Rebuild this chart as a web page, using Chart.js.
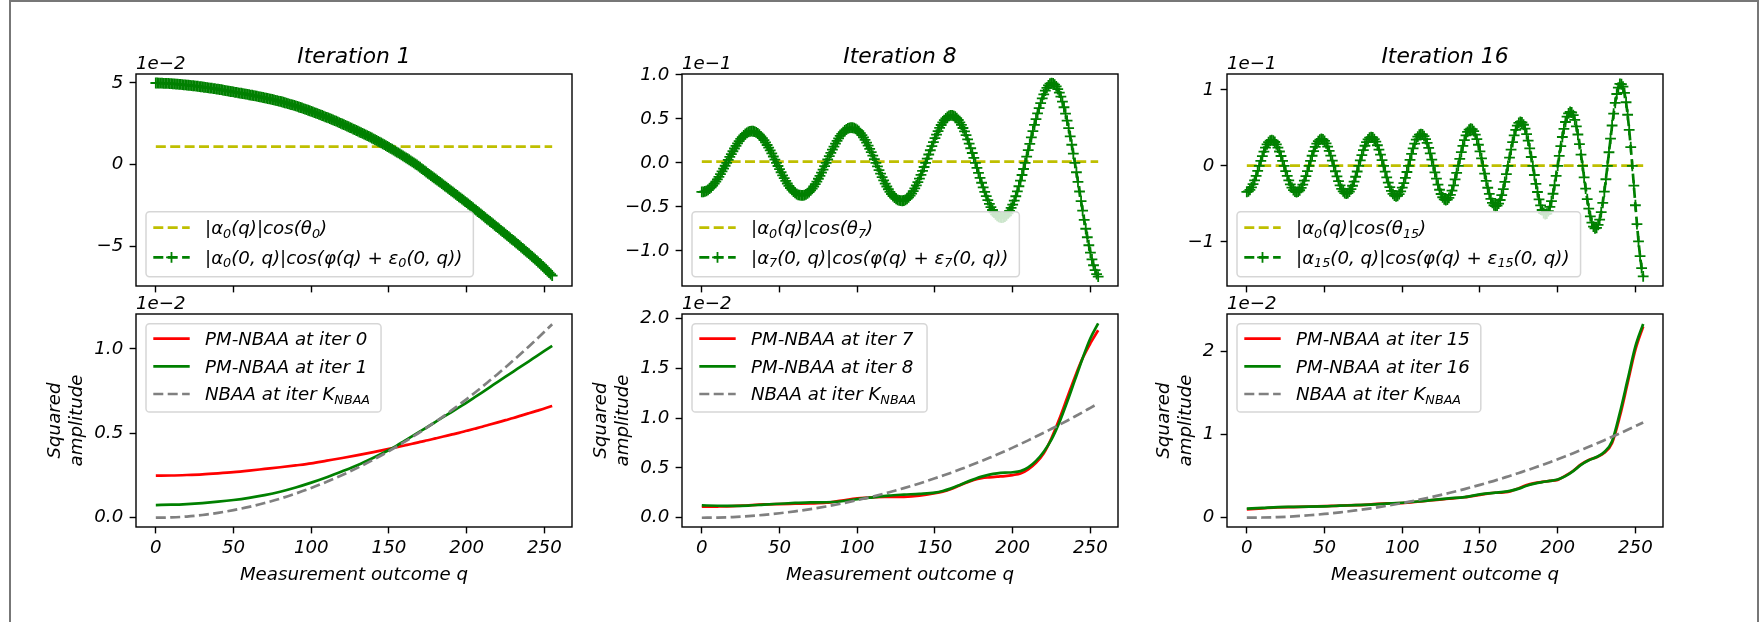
<!DOCTYPE html>
<html>
<head>
<meta charset="utf-8">
<script src="https://cdn.jsdelivr.net/npm/chart.js@4.4.0/dist/chart.umd.min.js"></script>
<style>
  html, body { margin: 0; padding: 0; background: #fff; }
  body { width: 1762px; height: 622px; position: relative; overflow: hidden; }
  #frame { position: absolute; left: 9px; top: 0; width: 1750px; height: 640px; border: 2px solid #777; box-sizing: border-box; }
</style>
</head>
<body>
<div id="frame"></div>
<script>
// ---- values ----

// measurement outcome q (top row)
const qTop = [
  0, 1, 2, 3, 4, 5, 6, 7, 8, 9, 10, 11, 12, 13, 14, 15,
  16, 17, 18, 19, 20, 21, 22, 23, 24, 25, 26, 27, 28, 29, 30, 31,
  32, 33, 34, 35, 36, 37, 38, 39, 40, 41, 42, 43, 44, 45, 46, 47,
  48, 49, 50, 51, 52, 53, 54, 55, 56, 57, 58, 59, 60, 61, 62, 63,
  64, 65, 66, 67, 68, 69, 70, 71, 72, 73, 74, 75, 76, 77, 78, 79,
  80, 81, 82, 83, 84, 85, 86, 87, 88, 89, 90, 91, 92, 93, 94, 95,
  96, 97, 98, 99, 100, 101, 102, 103, 104, 105, 106, 107, 108, 109, 110, 111,
  112, 113, 114, 115, 116, 117, 118, 119, 120, 121, 122, 123, 124, 125, 126, 127,
  128, 129, 130, 131, 132, 133, 134, 135, 136, 137, 138, 139, 140, 141, 142, 143,
  144, 145, 146, 147, 148, 149, 150, 151, 152, 153, 154, 155, 156, 157, 158, 159,
  160, 161, 162, 163, 164, 165, 166, 167, 168, 169, 170, 171, 172, 173, 174, 175,
  176, 177, 178, 179, 180, 181, 182, 183, 184, 185, 186, 187, 188, 189, 190, 191,
  192, 193, 194, 195, 196, 197, 198, 199, 200, 201, 202, 203, 204, 205, 206, 207,
  208, 209, 210, 211, 212, 213, 214, 215, 216, 217, 218, 219, 220, 221, 222, 223,
  224, 225, 226, 227, 228, 229, 230, 231, 232, 233, 234, 235, 236, 237, 238, 239,
  240, 241, 242, 243, 244, 245, 246, 247, 248, 249, 250, 251, 252, 253, 254, 255
];

// |α_k(0,q)|cos(φ(q)+ε_k(0,q)) ; iteration 1 in 1e-2, iterations 8 / 16 in 1e-1
const wave1 = [
  5.00, 5.00, 4.99, 4.99, 4.99, 4.98, 4.98, 4.97, 4.97, 4.96, 4.96, 4.95, 4.94, 4.93, 4.93, 4.92,
  4.91, 4.90, 4.89, 4.88, 4.87, 4.86, 4.85, 4.84, 4.83, 4.82, 4.81, 4.80, 4.78, 4.77, 4.76, 4.74,
  4.73, 4.72, 4.70, 4.69, 4.68, 4.66, 4.65, 4.63, 4.62, 4.60, 4.59, 4.57, 4.55, 4.53, 4.52, 4.50,
  4.48, 4.47, 4.45, 4.43, 4.42, 4.40, 4.38, 4.37, 4.35, 4.33, 4.32, 4.30, 4.28, 4.26, 4.25, 4.23,
  4.21, 4.19, 4.17, 4.15, 4.13, 4.11, 4.09, 4.07, 4.05, 4.03, 4.01, 3.99, 3.96, 3.94, 3.92, 3.89,
  3.87, 3.85, 3.82, 3.79, 3.77, 3.74, 3.71, 3.68, 3.66, 3.63, 3.60, 3.57, 3.53, 3.50, 3.47, 3.43,
  3.40, 3.37, 3.33, 3.30, 3.26, 3.23, 3.19, 3.16, 3.12, 3.08, 3.05, 3.01, 2.97, 2.93, 2.90, 2.86,
  2.82, 2.78, 2.74, 2.70, 2.66, 2.62, 2.57, 2.53, 2.49, 2.45, 2.40, 2.36, 2.32, 2.27, 2.23, 2.18,
  2.14, 2.09, 2.05, 2.00, 1.96, 1.91, 1.87, 1.82, 1.78, 1.73, 1.68, 1.63, 1.58, 1.53, 1.48, 1.43,
  1.38, 1.33, 1.27, 1.22, 1.17, 1.11, 1.06, 1.00, 0.95, 0.89, 0.83, 0.77, 0.72, 0.66, 0.60, 0.54,
  0.48, 0.42, 0.36, 0.30, 0.23, 0.17, 0.11, 0.04, -0.02, -0.09, -0.16, -0.24, -0.31, -0.38, -0.45, -0.53,
  -0.60, -0.67, -0.74, -0.81, -0.88, -0.95, -1.02, -1.09, -1.16, -1.24, -1.31, -1.38, -1.45, -1.53, -1.60, -1.67,
  -1.74, -1.82, -1.89, -1.97, -2.04, -2.11, -2.18, -2.26, -2.33, -2.41, -2.48, -2.56, -2.64, -2.72, -2.79, -2.87,
  -2.94, -3.02, -3.09, -3.17, -3.25, -3.33, -3.40, -3.48, -3.55, -3.63, -3.71, -3.79, -3.86, -3.94, -4.02, -4.10,
  -4.17, -4.25, -4.33, -4.41, -4.49, -4.57, -4.64, -4.72, -4.80, -4.88, -4.96, -5.05, -5.13, -5.21, -5.29, -5.37,
  -5.45, -5.54, -5.62, -5.71, -5.79, -5.88, -5.96, -6.05, -6.13, -6.23, -6.32, -6.42, -6.51, -6.61, -6.70, -6.80
];
const wave8 = [
  -0.330, -0.329, -0.325, -0.318, -0.308, -0.294, -0.278, -0.259, -0.237, -0.213, -0.187, -0.159, -0.129, -0.098, -0.066, -0.033,
  0.000, 0.033, 0.067, 0.100, 0.132, 0.163, 0.193, 0.221, 0.247, 0.272, 0.293, 0.312, 0.328, 0.341, 0.351, 0.357,
  0.360, 0.359, 0.354, 0.346, 0.335, 0.321, 0.302, 0.282, 0.258, 0.232, 0.203, 0.173, 0.141, 0.107, 0.072, 0.036,
  0.000, -0.036, -0.072, -0.107, -0.142, -0.174, -0.206, -0.235, -0.262, -0.286, -0.307, -0.326, -0.342, -0.354, -0.363, -0.368,
  -0.370, -0.370, -0.366, -0.358, -0.347, -0.332, -0.314, -0.293, -0.269, -0.242, -0.213, -0.181, -0.147, -0.112, -0.076, -0.038,
  0.000, 0.038, 0.076, 0.114, 0.151, 0.185, 0.219, 0.250, 0.279, 0.306, 0.329, 0.350, 0.368, 0.381, 0.391, 0.398,
  0.400, 0.399, 0.395, 0.387, 0.374, 0.359, 0.339, 0.316, 0.290, 0.261, 0.230, 0.195, 0.159, 0.121, 0.082, 0.041,
  0.000, -0.041, -0.082, -0.122, -0.162, -0.199, -0.236, -0.269, -0.300, -0.329, -0.354, -0.377, -0.395, -0.410, -0.421, -0.427,
  -0.430, -0.431, -0.428, -0.421, -0.409, -0.393, -0.373, -0.349, -0.322, -0.290, -0.256, -0.219, -0.179, -0.137, -0.092, -0.047,
  0.000, 0.047, 0.095, 0.143, 0.190, 0.235, 0.280, 0.321, 0.361, 0.397, 0.430, 0.460, 0.485, 0.506, 0.523, 0.534,
  0.540, 0.540, 0.535, 0.524, 0.508, 0.487, 0.461, 0.431, 0.396, 0.357, 0.314, 0.267, 0.218, 0.166, 0.112, 0.057,
  0.000, -0.057, -0.114, -0.170, -0.226, -0.279, -0.331, -0.379, -0.424, -0.466, -0.503, -0.536, -0.564, -0.586, -0.603, -0.614,
  -0.620, -0.623, -0.621, -0.612, -0.596, -0.575, -0.547, -0.513, -0.474, -0.429, -0.380, -0.325, -0.266, -0.203, -0.138, -0.070,
  0.000, 0.071, 0.144, 0.216, 0.289, 0.360, 0.431, 0.498, 0.562, 0.623, 0.680, 0.732, 0.779, 0.820, 0.853, 0.881,
  0.900, 0.905, 0.903, 0.890, 0.869, 0.839, 0.799, 0.753, 0.696, 0.632, 0.560, 0.480, 0.395, 0.302, 0.206, 0.105,
  0.000, -0.107, -0.216, -0.326, -0.435, -0.543, -0.649, -0.749, -0.846, -0.937, -1.020, -1.097, -1.164, -1.220, -1.265, -1.294
];
const wave16 = [
  -0.340, -0.334, -0.314, -0.283, -0.240, -0.189, -0.130, -0.066, 0.000, 0.066, 0.130, 0.189, 0.240, 0.283, 0.314, 0.334,
  0.340, 0.334, 0.315, 0.283, 0.241, 0.190, 0.131, 0.067, 0.000, -0.067, -0.131, -0.191, -0.243, -0.286, -0.318, -0.337,
  -0.345, -0.338, -0.320, -0.288, -0.246, -0.193, -0.134, -0.068, 0.000, 0.068, 0.134, 0.196, 0.250, 0.293, 0.327, 0.347,
  0.355, 0.348, 0.329, 0.297, 0.253, 0.199, 0.137, 0.070, 0.000, -0.070, -0.138, -0.201, -0.257, -0.302, -0.336, -0.357,
  -0.365, -0.359, -0.339, -0.306, -0.261, -0.206, -0.142, -0.073, 0.000, 0.073, 0.143, 0.209, 0.266, 0.313, 0.349, 0.372,
  0.380, 0.374, 0.354, 0.319, 0.272, 0.215, 0.149, 0.076, 0.000, -0.076, -0.151, -0.219, -0.279, -0.329, -0.368, -0.391,
  -0.400, -0.393, -0.372, -0.336, -0.286, -0.226, -0.156, -0.080, 0.000, 0.080, 0.158, 0.230, 0.293, 0.346, 0.386, 0.411,
  0.420, 0.414, 0.392, 0.354, 0.303, 0.239, 0.165, 0.084, 0.000, -0.085, -0.168, -0.245, -0.313, -0.369, -0.412, -0.439,
  -0.450, -0.443, -0.420, -0.380, -0.325, -0.257, -0.178, -0.091, 0.000, 0.092, 0.182, 0.265, 0.339, 0.401, 0.448, 0.478,
  0.490, 0.483, 0.457, 0.413, 0.354, 0.279, 0.193, 0.099, 0.000, -0.100, -0.197, -0.287, -0.368, -0.434, -0.485, -0.517,
  -0.530, -0.523, -0.495, -0.448, -0.384, -0.304, -0.210, -0.108, 0.000, 0.109, 0.215, 0.314, 0.402, 0.475, 0.530, 0.566,
  0.580, 0.572, 0.542, 0.490, 0.420, 0.332, 0.230, 0.118, 0.000, -0.119, -0.235, -0.343, -0.439, -0.519, -0.580, -0.619,
  -0.635, -0.627, -0.595, -0.539, -0.462, -0.366, -0.254, -0.130, 0.000, 0.132, 0.261, 0.381, 0.489, 0.578, 0.648, 0.692,
  0.710, 0.703, 0.669, 0.607, 0.522, 0.414, 0.288, 0.148, 0.000, -0.151, -0.298, -0.437, -0.561, -0.664, -0.745, -0.798,
  -0.820, -0.814, -0.776, -0.706, -0.608, -0.485, -0.339, -0.175, 0.000, 0.180, 0.360, 0.532, 0.689, 0.831, 0.947, 1.032,
  1.080, 1.075, 1.044, 0.961, 0.838, 0.674, 0.475, 0.247, 0.000, -0.258, -0.517, -0.766, -0.993, -1.188, -1.344, -1.453
];
// |α0(q)|cos(θ_k), flat level per panel
const baseLevel = [1.10, 0.015, 0.003];

// bottom row, squared amplitude in 1e-2
const qBot = [0, 10, 20, 30, 40, 50, 60, 70, 80, 90, 100, 110, 120, 130, 140, 150,
  155, 160, 165, 170, 175, 180, 185, 190, 195, 200, 205, 210, 215, 220, 225, 230, 235, 240, 245, 250, 255];
const nbaa = [0.000, 0.002, 0.007, 0.016, 0.029, 0.045, 0.064, 0.087, 0.113, 0.143, 0.176, 0.213, 0.253, 0.297, 0.344, 0.395,
  0.422, 0.449, 0.478, 0.507, 0.538, 0.569, 0.601, 0.634, 0.668, 0.703, 0.739, 0.776, 0.814, 0.852, 0.892, 0.932, 0.973, 1.015, 1.058, 1.102, 1.146];
const pm0 = [0.249, 0.250, 0.253, 0.257, 0.263, 0.270, 0.279, 0.289, 0.299, 0.310, 0.322, 0.338, 0.354, 0.371, 0.389, 0.408,
  0.418, 0.428, 0.438, 0.449, 0.459, 0.470, 0.481, 0.492, 0.503, 0.515, 0.527, 0.539, 0.552, 0.565, 0.578, 0.591, 0.605, 0.619, 0.633, 0.647, 0.662];
const pm1 = [0.075, 0.077, 0.081, 0.087, 0.095, 0.105, 0.118, 0.134, 0.154, 0.179, 0.208, 0.240, 0.275, 0.312, 0.355, 0.401,
  0.427, 0.455, 0.483, 0.511, 0.539, 0.568, 0.597, 0.625, 0.654, 0.682, 0.713, 0.743, 0.774, 0.805, 0.836, 0.866, 0.897, 0.927, 0.958, 0.988, 1.018];
const pm7 = [0.110, 0.112, 0.116, 0.125, 0.133, 0.137, 0.140, 0.143, 0.150, 0.172, 0.194, 0.205, 0.208, 0.210, 0.222, 0.246,
  0.262, 0.285, 0.318, 0.350, 0.378, 0.396, 0.405, 0.412, 0.418, 0.428, 0.443, 0.485, 0.550, 0.645, 0.800, 0.990, 1.20, 1.41, 1.60, 1.75, 1.88];
const pm8 = [0.124, 0.120, 0.118, 0.122, 0.132, 0.140, 0.148, 0.154, 0.155, 0.165, 0.187, 0.205, 0.222, 0.232, 0.240, 0.252,
  0.268, 0.292, 0.322, 0.356, 0.385, 0.412, 0.432, 0.445, 0.452, 0.456, 0.467, 0.505, 0.570, 0.662, 0.785, 0.955, 1.16, 1.38, 1.60, 1.80, 1.95];
const pm15 = [0.100, 0.112, 0.124, 0.128, 0.132, 0.138, 0.146, 0.150, 0.160, 0.172, 0.176, 0.192, 0.212, 0.228, 0.246, 0.275,
  0.290, 0.300, 0.305, 0.320, 0.355, 0.392, 0.415, 0.430, 0.442, 0.455, 0.505, 0.565, 0.642, 0.695, 0.728, 0.780, 0.900, 1.22, 1.62, 2.02, 2.30];
const pm16 = [0.108, 0.118, 0.128, 0.130, 0.132, 0.137, 0.144, 0.150, 0.158, 0.168, 0.180, 0.195, 0.214, 0.232, 0.248, 0.280,
  0.292, 0.302, 0.310, 0.325, 0.350, 0.385, 0.410, 0.428, 0.442, 0.460, 0.500, 0.560, 0.635, 0.690, 0.730, 0.790, 0.920, 1.26, 1.66, 2.06, 2.33];

// ticks, labels, limits
const xTicks = [0, 50, 100, 150, 200, 250];
const titles = ['Iteration 1', 'Iteration 8', 'Iteration 16'];
const iterPairs = [[0, 1], [7, 8], [15, 16]];
const thetaIdx = ['0', '7', '15'];
const topYTicks = [[-5, 0, 5], [-1, -0.5, 0, 0.5, 1], [-1, 0, 1]];
const topYLabels = [['−5', '0', '5'], ['−1.0', '−0.5', '0.0', '0.5', '1.0'], ['−1', '0', '1']];
const topYRange = [[-7.43, 5.55], [-1.40, 1.01], [-1.58, 1.21]];
const topOffset = ['1e−2', '1e−1', '1e−1'];
const botYTicks = [[0, 0.5, 1], [0, 0.5, 1, 1.5, 2], [0, 1, 2]];
const botYLabels = [['0.0', '0.5', '1.0'], ['0.0', '0.5', '1.0', '1.5', '2.0'], ['0', '1', '2']];
const botYRange = [[-0.055, 1.207], [-0.093, 2.043], [-0.112, 2.45]];

// ---- layout / style ----
const COL_X = [136, 682, 1227];
const ROW = [{ top: 74, h: 212 }, { top: 314, h: 213 }];
const AX_W = 436, PAD_L = 130, PAD_T = 80, PAD_R = 10, PAD_B = 70;
const FS = 18.2, TITLE_FS = 21.8;
const LW = 2.7, DASH = [10, 4.4];
const YELLOW = '#bfbf00', GREEN = '#008000', RED = '#ff0000', GREY = '#808080';
const FAMILY = '"DejaVu Sans", sans-serif';
const TICK_FONT = { family: 'DejaVu Sans', size: FS, style: 'italic' };
const font = sz => `italic ${sz}px ${FAMILY}`;

function pts(xs, ys) { return xs.map((x, i) => ({ x, y: ys[i] })); }

function richWidth(ctx, segs) {
  let w = 0;
  segs.forEach(([t, sub]) => { ctx.font = font(sub ? FS * 0.7 : FS); w += ctx.measureText(t).width; });
  return w;
}
function drawRich(ctx, segs, x, y) {
  segs.forEach(([t, sub]) => {
    ctx.font = font(sub ? FS * 0.7 : FS);
    ctx.fillText(t, x, sub ? y + FS * 0.2 : y);
    x += ctx.measureText(t).width;
  });
}

function drawHandle(ctx, h, x0, x1, y) {
  ctx.save();
  ctx.strokeStyle = h.color;
  ctx.lineWidth = LW;
  ctx.setLineDash(h.dash ? DASH : []);
  ctx.beginPath(); ctx.moveTo(x0, y); ctx.lineTo(x1, y); ctx.stroke();
  if (h.marker) {
    const cx = (x0 + x1) / 2, r = 5.4;
    ctx.setLineDash([]);
    ctx.lineWidth = 1.8;
    ctx.beginPath();
    ctx.moveTo(cx - r, y); ctx.lineTo(cx + r, y);
    ctx.moveTo(cx, y - r); ctx.lineTo(cx, y + r);
    ctx.stroke();
  }
  ctx.restore();
}

function roundRect(ctx, x, y, w, h, r) {
  ctx.beginPath();
  ctx.moveTo(x + r, y);
  ctx.arcTo(x + w, y, x + w, y + h, r);
  ctx.arcTo(x + w, y + h, x, y + h, r);
  ctx.arcTo(x, y + h, x, y, r);
  ctx.arcTo(x, y, x + w, y, r);
  ctx.closePath();
}

// titles, offset text, legend, axis labels and the frame
function makeDeco(spec) {
  return {
    id: 'deco',
    afterDraw(chart) {
      const ctx = chart.ctx, a = chart.chartArea;
      const cx = (a.left + a.right) / 2;
      ctx.save();
      ctx.fillStyle = '#000';
      ctx.textBaseline = 'alphabetic';

      // legend
      const lg = spec.legend;
      const bx = a.left + 10, by = a.top + lg.top;
      const tw = Math.max(...lg.rows.map(r => richWidth(ctx, r.label)));
      roundRect(ctx, bx, by, 59 + tw + 11, lg.h, 3.6);
      ctx.fillStyle = 'rgba(255,255,255,0.8)';
      ctx.fill();
      ctx.strokeStyle = 'rgba(204,204,204,0.8)';
      ctx.lineWidth = 1.5;
      ctx.stroke();
      ctx.fillStyle = '#000';
      ctx.textAlign = 'left';
      lg.rows.forEach((r, i) => {
        const y = by + lg.rowY[i];
        drawHandle(ctx, r, bx + 7.3, bx + 43.7, y);
        drawRich(ctx, r.label, bx + 59, y + 6.3);
      });

      // frame
      ctx.strokeStyle = '#000';
      ctx.lineWidth = 1.4;
      ctx.setLineDash([]);
      ctx.strokeRect(a.left, a.top, a.right - a.left, a.bottom - a.top);

      // offset text
      ctx.font = font(FS);
      ctx.textAlign = 'left';
      ctx.fillText(spec.offset, a.left, a.top - 5);

      if (spec.title) {
        ctx.font = font(TITLE_FS);
        ctx.textAlign = 'center';
        ctx.fillText(spec.title, cx, a.top - 11);
      }
      if (spec.xlabel) {
        ctx.font = font(FS);
        ctx.textAlign = 'center';
        ctx.fillText(spec.xlabel, cx, a.bottom + 53);
      }
      if (spec.ylabel) {
        const cy = (a.top + a.bottom) / 2;
        ctx.font = font(FS);
        ctx.textAlign = 'center';
        spec.ylabel.forEach((t, i) => {
          ctx.save();
          ctx.translate(a.left - spec.ylabelGap - (1 - i) * 21.8, cy);
          ctx.rotate(-Math.PI / 2);
          ctx.fillText(t, 0, 0);
          ctx.restore();
        });
      }
      ctx.restore();
    }
  };
}

function addCanvas(col, row) {
  const c = document.createElement('canvas');
  const w = PAD_L + AX_W + PAD_R, h = PAD_T + ROW[row].h + PAD_B;
  c.width = w; c.height = h;
  c.style.cssText = `position:absolute;left:${COL_X[col] - PAD_L}px;top:${ROW[row].top - PAD_T}px;width:${w}px;height:${h}px;`;
  document.body.appendChild(c);
  return c;
}

function makeChart(canvas, opt) {
  const tickGrid = { display: true, drawOnChartArea: false, drawTicks: true, tickLength: 6.4, tickWidth: 1.4, tickColor: '#000' };
  return new Chart(canvas, {
    type: 'line',
    data: { datasets: opt.datasets },
    options: {
      responsive: false,
      animation: false,
      devicePixelRatio: 1,
      events: [],
      layout: { padding: { left: 0, top: PAD_T, right: PAD_R, bottom: 0 } },
      plugins: { legend: { display: false }, tooltip: { enabled: false } },
      scales: {
        x: {
          type: 'linear', min: -12.75, max: 267.75,
          afterBuildTicks: s => { s.ticks = xTicks.map(v => ({ value: v })); },
          afterFit: s => { s.height = PAD_B; },
          grid: tickGrid,
          border: { display: false },
          ticks: { display: opt.showX, color: '#000', font: TICK_FONT, padding: 4, maxRotation: 0, autoSkip: false }
        },
        y: {
          type: 'linear', min: opt.yRange[0], max: opt.yRange[1],
          afterBuildTicks: s => { s.ticks = opt.yTicks.map(v => ({ value: v })); },
          afterFit: s => { s.width = PAD_L; },
          grid: tickGrid,
          border: { display: false },
          ticks: { color: '#000', font: TICK_FONT, padding: 6.4, autoSkip: false,
                   callback: (v, i) => opt.yLabels[i] }
        }
      }
    },
    plugins: [makeDeco(opt.deco)]
  });
}

const waves = [wave1, wave8, wave16];
const reds = [pm0, pm7, pm15];
const greens = [pm1, pm8, pm16];

for (let col = 0; col < 3; col++) {
  const k = thetaIdx[col];

  // top row: amplitude components
  makeChart(addCanvas(col, 0), {
    showX: false,
    yRange: topYRange[col], yTicks: topYTicks[col], yLabels: topYLabels[col],
    datasets: [
      { data: pts(qTop, waves[col]), borderColor: GREEN, borderWidth: LW, borderDash: DASH,
        pointStyle: 'cross', pointRadius: 5.4, pointBorderWidth: 1.8, pointBorderColor: GREEN, tension: 0, order: 0 },
      { data: pts([0, 255], [baseLevel[col], baseLevel[col]]), borderColor: YELLOW, borderWidth: LW,
        borderDash: DASH, pointRadius: 0, order: 1 }
    ],
    deco: {
      title: titles[col], offset: topOffset[col],
      legend: {
        top: 137.7, h: 65, rowY: [16, 45.6],
        rows: [
          { color: YELLOW, dash: true, label: [['|α'], ['0', 1], ['(q)|cos(θ'], [k, 1], [')']] },
          { color: GREEN, dash: true, marker: true,
            label: [['|α'], [k, 1], ['(0, q)|cos(φ(q) + ε'], [k, 1], ['(0, q))']] }
        ]
      }
    }
  });

  // bottom row: squared amplitudes
  const [i0, i1] = iterPairs[col];
  makeChart(addCanvas(col, 1), {
    showX: true,
    yRange: botYRange[col], yTicks: botYTicks[col], yLabels: botYLabels[col],
    datasets: [
      { data: pts(qBot, nbaa), borderColor: GREY, borderWidth: LW, borderDash: DASH, pointRadius: 0,
        cubicInterpolationMode: 'monotone', order: 0 },
      { data: pts(qBot, greens[col]), borderColor: GREEN, borderWidth: LW, pointRadius: 0,
        cubicInterpolationMode: 'monotone', order: 1 },
      { data: pts(qBot, reds[col]), borderColor: RED, borderWidth: LW, pointRadius: 0,
        cubicInterpolationMode: 'monotone', order: 2 }
    ],
    deco: {
      offset: '1e−2', xlabel: 'Measurement outcome q',
      ylabel: ['Squared', 'amplitude'], ylabelGap: col === 2 ? 36.5 : 54,
      legend: {
        top: 9.7, h: 88.3, rowY: [15, 42.7, 70.3],
        rows: [
          { color: RED, label: [[`PM-NBAA at iter ${i0}`]] },
          { color: GREEN, label: [[`PM-NBAA at iter ${i1}`]] },
          { color: GREY, dash: true, label: [['NBAA at iter K'], ['NBAA', 1]] }
        ]
      }
    }
  });
}
</script>
</body>
</html>
